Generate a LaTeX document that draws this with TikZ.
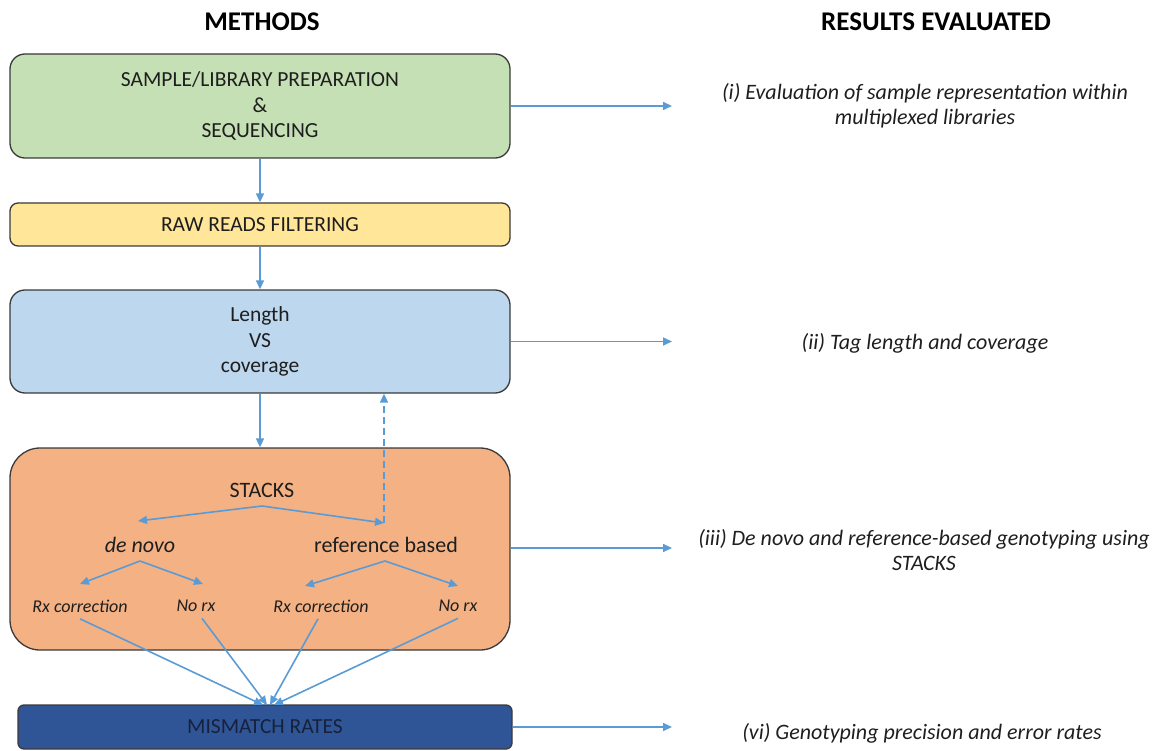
\documentclass[tikz,border=0pt]{standalone}
\usepackage{fontspec}
\setmainfont{Carlito}
\usetikzlibrary{arrows.meta}
\definecolor{bord}{HTML}{3A3A3A}
\definecolor{arrc}{HTML}{5B9BD5}
\definecolor{greenf}{HTML}{C5E0B4}
\definecolor{yellowf}{HTML}{FFE699}
\definecolor{bluef}{HTML}{BDD7EE}
\definecolor{orangef}{HTML}{F4B183}
\definecolor{navyf}{HTML}{2F5597}
\definecolor{navyt}{HTML}{16223D}
\definecolor{txt}{HTML}{1E1E1E}
\tikzset{
  box/.style={draw=bord, line width=1.3pt, text=txt, align=center, inner sep=0pt,
    font=\fontsize{21.5}{25.5}\selectfont},
  arr/.style={draw=arrc, line width=1.6pt, -{Triangle[length=9pt,width=8pt]}},
  title/.style={font=\fontsize{27}{32}\selectfont\bfseries, text=black},
  res/.style={font=\fontsize{22}{25}\selectfont\itshape, text=txt, align=center},
  inner/.style={font=\fontsize{22}{25}\selectfont, text=txt},
  small/.style={font=\fontsize{18}{21}\selectfont\itshape, text=txt},
}
\begin{document}
\begin{tikzpicture}[x=1pt,y=-1pt]
\useasboundingbox (0,0) rectangle (1164,751);

% titles
\node[title] (tm) at (262,22) {METHODS};
\node[title] (tr) at (936,22) {RESULTS EVALUATED};

% method boxes
\node[box, fill=greenf, rounded corners=15pt, minimum width=500pt, minimum height=104pt] (green) at (260,106)
  {SAMPLE/LIBRARY PREPARATION\\\&\\SEQUENCING};
\node[box, fill=yellowf, rounded corners=8pt, minimum width=500pt, minimum height=43pt] (yellow) at (260,224.5)
  {RAW READS FILTERING};
\node[box, fill=bluef, rounded corners=15pt, minimum width=500pt, minimum height=103pt] (blue) at (260,341.5)
  {Length\\VS\\coverage};
\node[box, fill=orangef, rounded corners=30pt, minimum width=500pt, minimum height=202pt] (orange) at (260,549) {};
\node[box, fill=navyf, text=navyt, rounded corners=6pt, minimum width=494pt, minimum height=44pt] (mism) at (265,727)
  {MISMATCH RATES};

% inner nodes of STACKS
\node[inner] (stacks) at (262,490) {STACKS};
\node[inner, font=\fontsize{22}{25}\selectfont\itshape] (denovo) at (140,545) {de novo};
\node[inner] (refb) at (386,545) {reference based};
\node[small] (rx1) at (80,606) {Rx correction};
\node[small] (nr1) at (196,606) {No rx};
\node[small] (rx2) at (321,606) {Rx correction};
\node[small] (nr2) at (458,606) {No rx};

\coordinate (sfork) at (262,506);
\coordinate (tdn) at (138,521);
\coordinate (trb) at (384,523);
\coordinate (dfork) at (140,561);
\coordinate (tdl) at (80,584);
\coordinate (tdr) at (203,584);
\coordinate (rfork) at (385,561);
\coordinate (trl) at (305,586);
\coordinate (trr) at (458,586);

\draw[arr] (sfork) -- (tdn);
\draw[arr] (sfork) -- (trb);
\draw[arr] (dfork) -- (tdl);
\draw[arr] (dfork) -- (tdr);
\draw[arr] (rfork) -- (trl);
\draw[arr] (rfork) -- (trr);

% dashed feedback
\draw[arr, dashed, dash pattern=on 7pt off 4pt] (trb) -- (trb |- blue.south);

% vertical flow
\draw[arr] (green.south) -- (yellow.north);
\draw[arr] (yellow.south) -- (blue.north);
\draw[arr] (blue.south) -- (orange.north);

% convergence to mismatch
\coordinate (m1) at (263,705);
\coordinate (m2) at (267,705);
\coordinate (m3) at (270,705);
\coordinate (m4) at (274,705);
\draw[arr] (rx1.south) ++(0,3) -- (m1);
\draw[arr] (nr1.south) ++(6,3) -- (m2);
\draw[arr] (rx2.south) ++(-3,3) -- (m3);
\draw[arr] (nr2.south) ++(0,3) -- (m4);

% results arrows
\coordinate (e1) at (672,106);
\coordinate (e2) at (672,341.5);
\coordinate (e3) at (672,548);
\coordinate (e4) at (672,727);
\draw[arr] (green.east) -- (e1);
\draw[arr] (blue.east) -- (e2);
\draw[arr] (orange.east |- e3) -- (e3);
\draw[arr] (mism.east) -- (e4);

% results texts
\node[res] (r1) at (925,105.5) {(i) Evaluation of sample representation within\\multiplexed libraries};
\node[res] (r2) at (925,343) {(ii) Tag length and coverage};
\node[res] (r3) at (924,550.5) {(iii) De novo and reference-based genotyping using\\STACKS};
\node[res] (r4) at (922,733) {(vi) Genotyping precision and error rates};
\end{tikzpicture}
\end{document}
